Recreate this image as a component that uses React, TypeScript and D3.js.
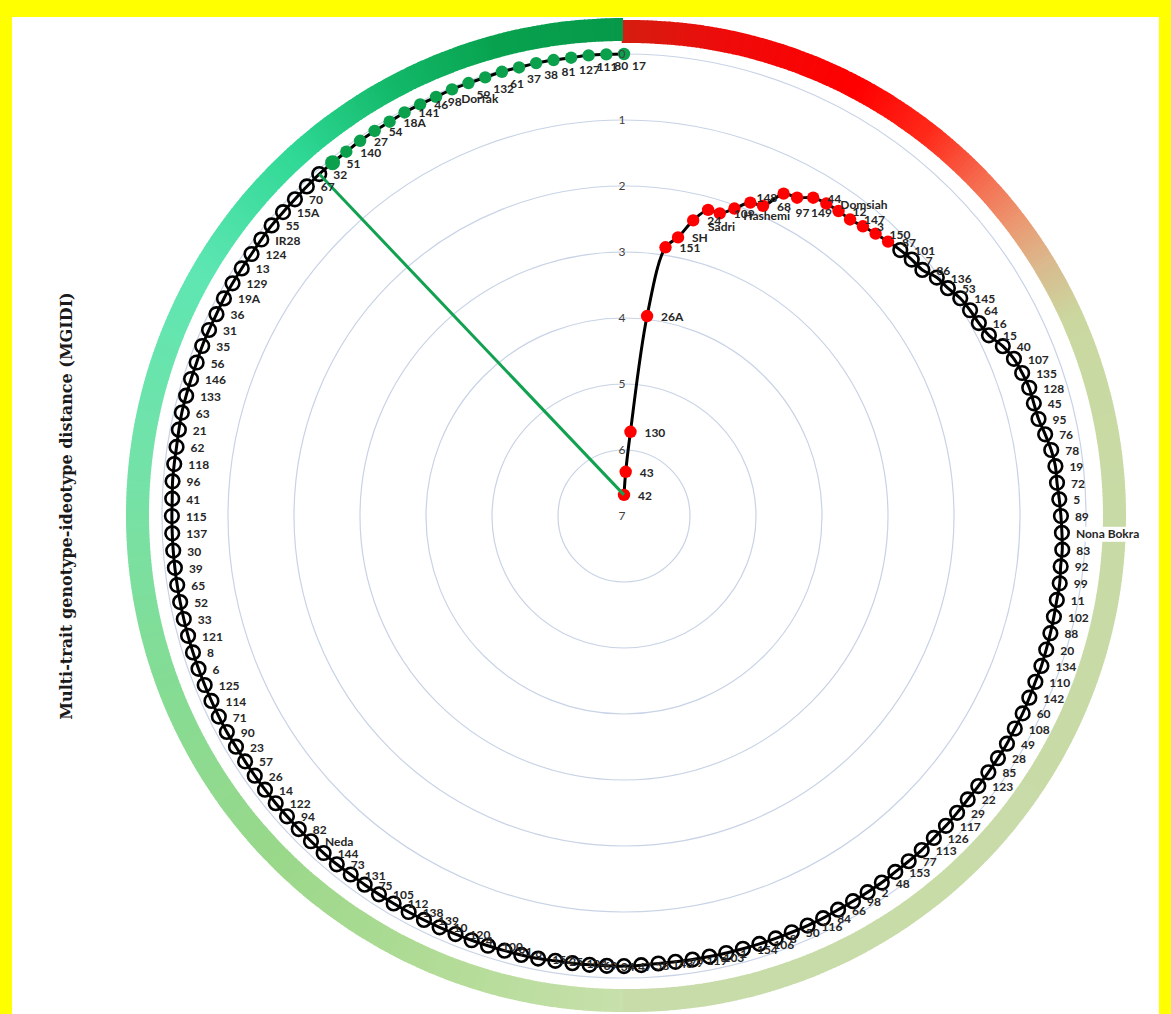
import React from 'react';
import * as d3 from 'd3';

const W = 1171;
const H = 1014;

// ---- data ----
const selectedGenotypes = ['42','43','130','26A','151','SH','24','Sadri','109','148','Hashemi','68','97','149','44','Domsiah','12','147','3','150','87'];
const selectedMGIDI = [6.68,6.33,5.72,3.95,2.88,2.70,2.40,2.19,2.19,2.05,1.88,1.85,1.55,1.51,1.39,1.36,1.35,1.35,1.31,1.27,1.23];

const middleGenotypes = [
  '101','7','86','136','53','145','64','16','15','40','107','135','128','45','95','76','78','19','72','5',
  '89','Nona Bokra','83','92','99','11','102','88','20','134','110','142','60','108','49','28','85','123','22','29',
  '117','126','113','77','153','48','2','98','66','84','116','50','8','106','154','1','103',
  '119','79','143','58','47','34','69','104','25','152','9','91','100','4','120','10',
  '139','138','112','105','75','131','73','144',
  'Neda','82','94','122','14','26','57','23','90','71','114','125','6','8','121','33','52','65','39','30',
  '137','115','41','96','118','62','21','63','133','146','56','35','31','36','19A','129','13','124','IR28','55',
  '15A','70','67','32'
];
const middleMGIDI = [
  1.19,1.16,1.14,1.04,1.00,0.93,0.90,0.88,0.83,0.71,
  0.63,0.59,0.56,0.56,0.55,0.50,0.45,0.42,0.42,0.40,
  0.38,0.36,0.34,0.34,0.32,0.32,0.31,0.30,0.29,0.28,
  0.28,0.27,0.26,0.26,0.25,0.25,0.25,0.25,0.25,0.24,
  0.23,0.23,0.22,0.22,0.22,0.21,0.21,0.21,0.21,0.20,
  0.20,0.20,0.20,0.20,0.20,0.20,0.20,0.20,0.20,0.20,
  0.19,0.18,0.18,0.18,0.18,0.18,0.17,0.17,0.17,0.17,
  0.17,0.17,0.17,0.17,0.17,0.17,0.17,0.17,0.17,0.16,
  0.16,0.16,0.16,0.16,0.16,0.16,0.16,0.16,0.16,0.15,
  0.15,0.15,0.15,0.15,0.15,0.15,0.15,0.15,0.15,0.15,
  0.15,0.15,0.15,0.15,0.14,0.14,0.14,0.13,0.12,0.12,
  0.12,0.12,0.11,0.11,0.11,0.10,0.10,0.10,0.10,0.09,
  0.08,0.08,0.08,0.07,0.06
];

const topGenotypes = ['51','140','27','54','18A','141','46','98','Dorfak','59','132','61','37','38','81','127','111','80','17'];
const topMGIDI = [0.06,0.06,0.05,0.05,0.05,0.04,0.04,0.04,0.03,0.03,0.03,0.02,0.02,0.01,0.01,0.01,0.00,0.00,0.00];

const radialTicks = [0, 1, 2, 3, 4, 5, 6, 7];

// ring colour stops (degrees clockwise from top)
const rightRingDeg = [-1, 12, 28, 38, 46, 53, 59, 66, 90, 181];
const rightRingCol = ['#d41e10','#f00a0a','#ff0000','#ff2a1a','#f56a4e','#eb9a72','#d9bb8f','#cad8a0','#c8dba6','#c8dcaa'];
const leftRingDeg = [180, 200, 225, 250, 275, 300, 318, 332, 345, 360];
const leftRingCol = ['#c8e0ac','#b4dc98','#9ad88a','#84dc94','#74e2a8','#5ee6b2','#2fd895','#12b868','#08a24e','#06994a'];

// manual nudges of a few crowded labels (label layout only)
const labelNudge: Record<string, [number, number]> = {
  'Sadri': [-14, 16], '148': [8, -12], 'Hashemi': [-21, 12], '97': [-2, 18], '149': [0, 14],
};

type Pt = { g: string; v: number; i: number; a: number; x: number; y: number; grp: string };

export default function App() {
  const cx = 624, cy = 516;
  const rMax = 462;
  const r = d3.scaleLinear().domain([7, 0]).range([0, rMax]);

  const genos = [...selectedGenotypes, ...middleGenotypes, ...topGenotypes];
  const vals = [...selectedMGIDI, ...middleMGIDI, ...topMGIDI];
  const nSel = selectedGenotypes.length;
  const nMid = middleGenotypes.length;
  const ang = d3.scaleLinear().domain([0, genos.length - 1]).range([0, 2 * Math.PI]);

  const pts: Pt[] = genos.map((g, i) => {
    const a = ang(i);
    const rr = r(vals[i]);
    return {
      g, v: vals[i], i, a,
      x: cx + rr * Math.sin(a),
      y: cy - rr * Math.cos(a),
      grp: i < nSel ? 'sel' : i < nSel + nMid ? 'mid' : 'top',
    };
  });

  const line = d3.line<Pt>().x(d => d.x).y(d => d.y).curve(d3.curveCatmullRom.alpha(0.5));

  const makeRing = (deg: number[], col: string[], c: [number, number], rin: number, rout: number) => {
    const col2 = d3.scaleLinear<string>().domain(deg).range(col).interpolate(d3.interpolateRgb);
    const a0 = deg[0], a1 = deg[deg.length - 1];
    const steps = d3.range(a0, a1, 0.5);
    const arc = d3.arc();
    return steps.map((s, k) => (
      <path key={k}
        transform={`translate(${c[0]},${c[1]})`}
        d={arc({ innerRadius: rin, outerRadius: rout, startAngle: (s * Math.PI) / 180, endAngle: (Math.min(s + 0.6, a1) * Math.PI) / 180 }) as string}
        fill={col2(s + 0.25)} />
    ));
  };

  const labelPos = (p: Pt) => {
    let dx = 14, dy = 1;
    const deg = (p.a * 180) / Math.PI;
    if (deg > 334) {
      const t = Math.max(0, Math.min(1, (deg - 334) / 5));
      dy += t * 11;
      dx -= t * 6;
    }
    const n = labelNudge[p.g];
    if (n && p.grp === 'sel') { dx += n[0]; dy += n[1]; }
    return { x: p.x + dx, y: p.y + dy + 4 };
  };

  const first = pts[0];
  const lastMid = pts[nSel + nMid - 1];

  return (
    <svg width={W} height={H} style={{ position: 'fixed', left: 0, top: 0, background: '#fff' }}>
      <rect x={0} y={0} width={W} height={H} fill="#fff" />
      <rect x={0} y={0} width={W} height={17} fill="#ffff00" />
      <rect x={0} y={0} width={12} height={H} fill="#ffff00" />
      <rect x={W - 12} y={0} width={12} height={H} fill="#ffff00" />

      {radialTicks.filter(t => r(t) > 0).map(t => (
        <circle key={t} cx={cx} cy={cy} r={r(t)} fill="none" stroke="#c8d3e6" strokeWidth={1.2} />
      ))}

      <path d={line(pts) as string} fill="none" stroke="#000" strokeWidth={3} />

      {pts.map(p => p.grp === 'mid' ? (
        <circle key={p.i} cx={p.x} cy={p.y} r={6.8} fill="none" stroke="#000" strokeWidth={2.6} />
      ) : (
        <circle key={p.i} cx={p.x} cy={p.y} r={p.i === nSel + nMid ? 7.5 : 6.2} fill={p.grp === 'sel' ? '#ff0000' : '#0aa04c'} />
      ))}

      <line x1={first.x} y1={first.y} x2={lastMid.x} y2={lastMid.y} stroke="#12a150" strokeWidth={3} />

      {radialTicks.map(t => (
        <text key={t} x={cx - 2} y={cy - r(t) + 4} textAnchor="middle" fontFamily="Lato, 'Liberation Sans', sans-serif" fontSize={12} fill="#404040">{t}</text>
      ))}

      {makeRing(rightRingDeg, rightRingCol, [630, 516], 473, 496)}
      {makeRing(leftRingDeg, leftRingCol, [623, 515], 474, 497)}

      {pts.map(p => {
        const lp = labelPos(p);
        const long = p.g.length > 6 && Math.hypot(lp.x - cx, lp.y - cy) > 440;
        return (
          <g key={p.i}>
            {long && <rect x={lp.x - 1} y={lp.y - 11} width={p.g.length * 6.4} height={15} fill="#fff" />}
            <text x={lp.x} y={lp.y} fontFamily="Lato, 'Liberation Sans', sans-serif" fontWeight="bold" fontSize={12} fill="#262626">{p.g}</text>
          </g>
        );
      })}

      <text transform={`translate(72,506) rotate(-90)`} textAnchor="middle" fontFamily="'DejaVu Serif', serif" fontWeight="bold" fontSize={16} fill="#1a1a1a">
        Multi-trait genotype-ideotype distance (MGIDI)
      </text>
    </svg>
  );
}
